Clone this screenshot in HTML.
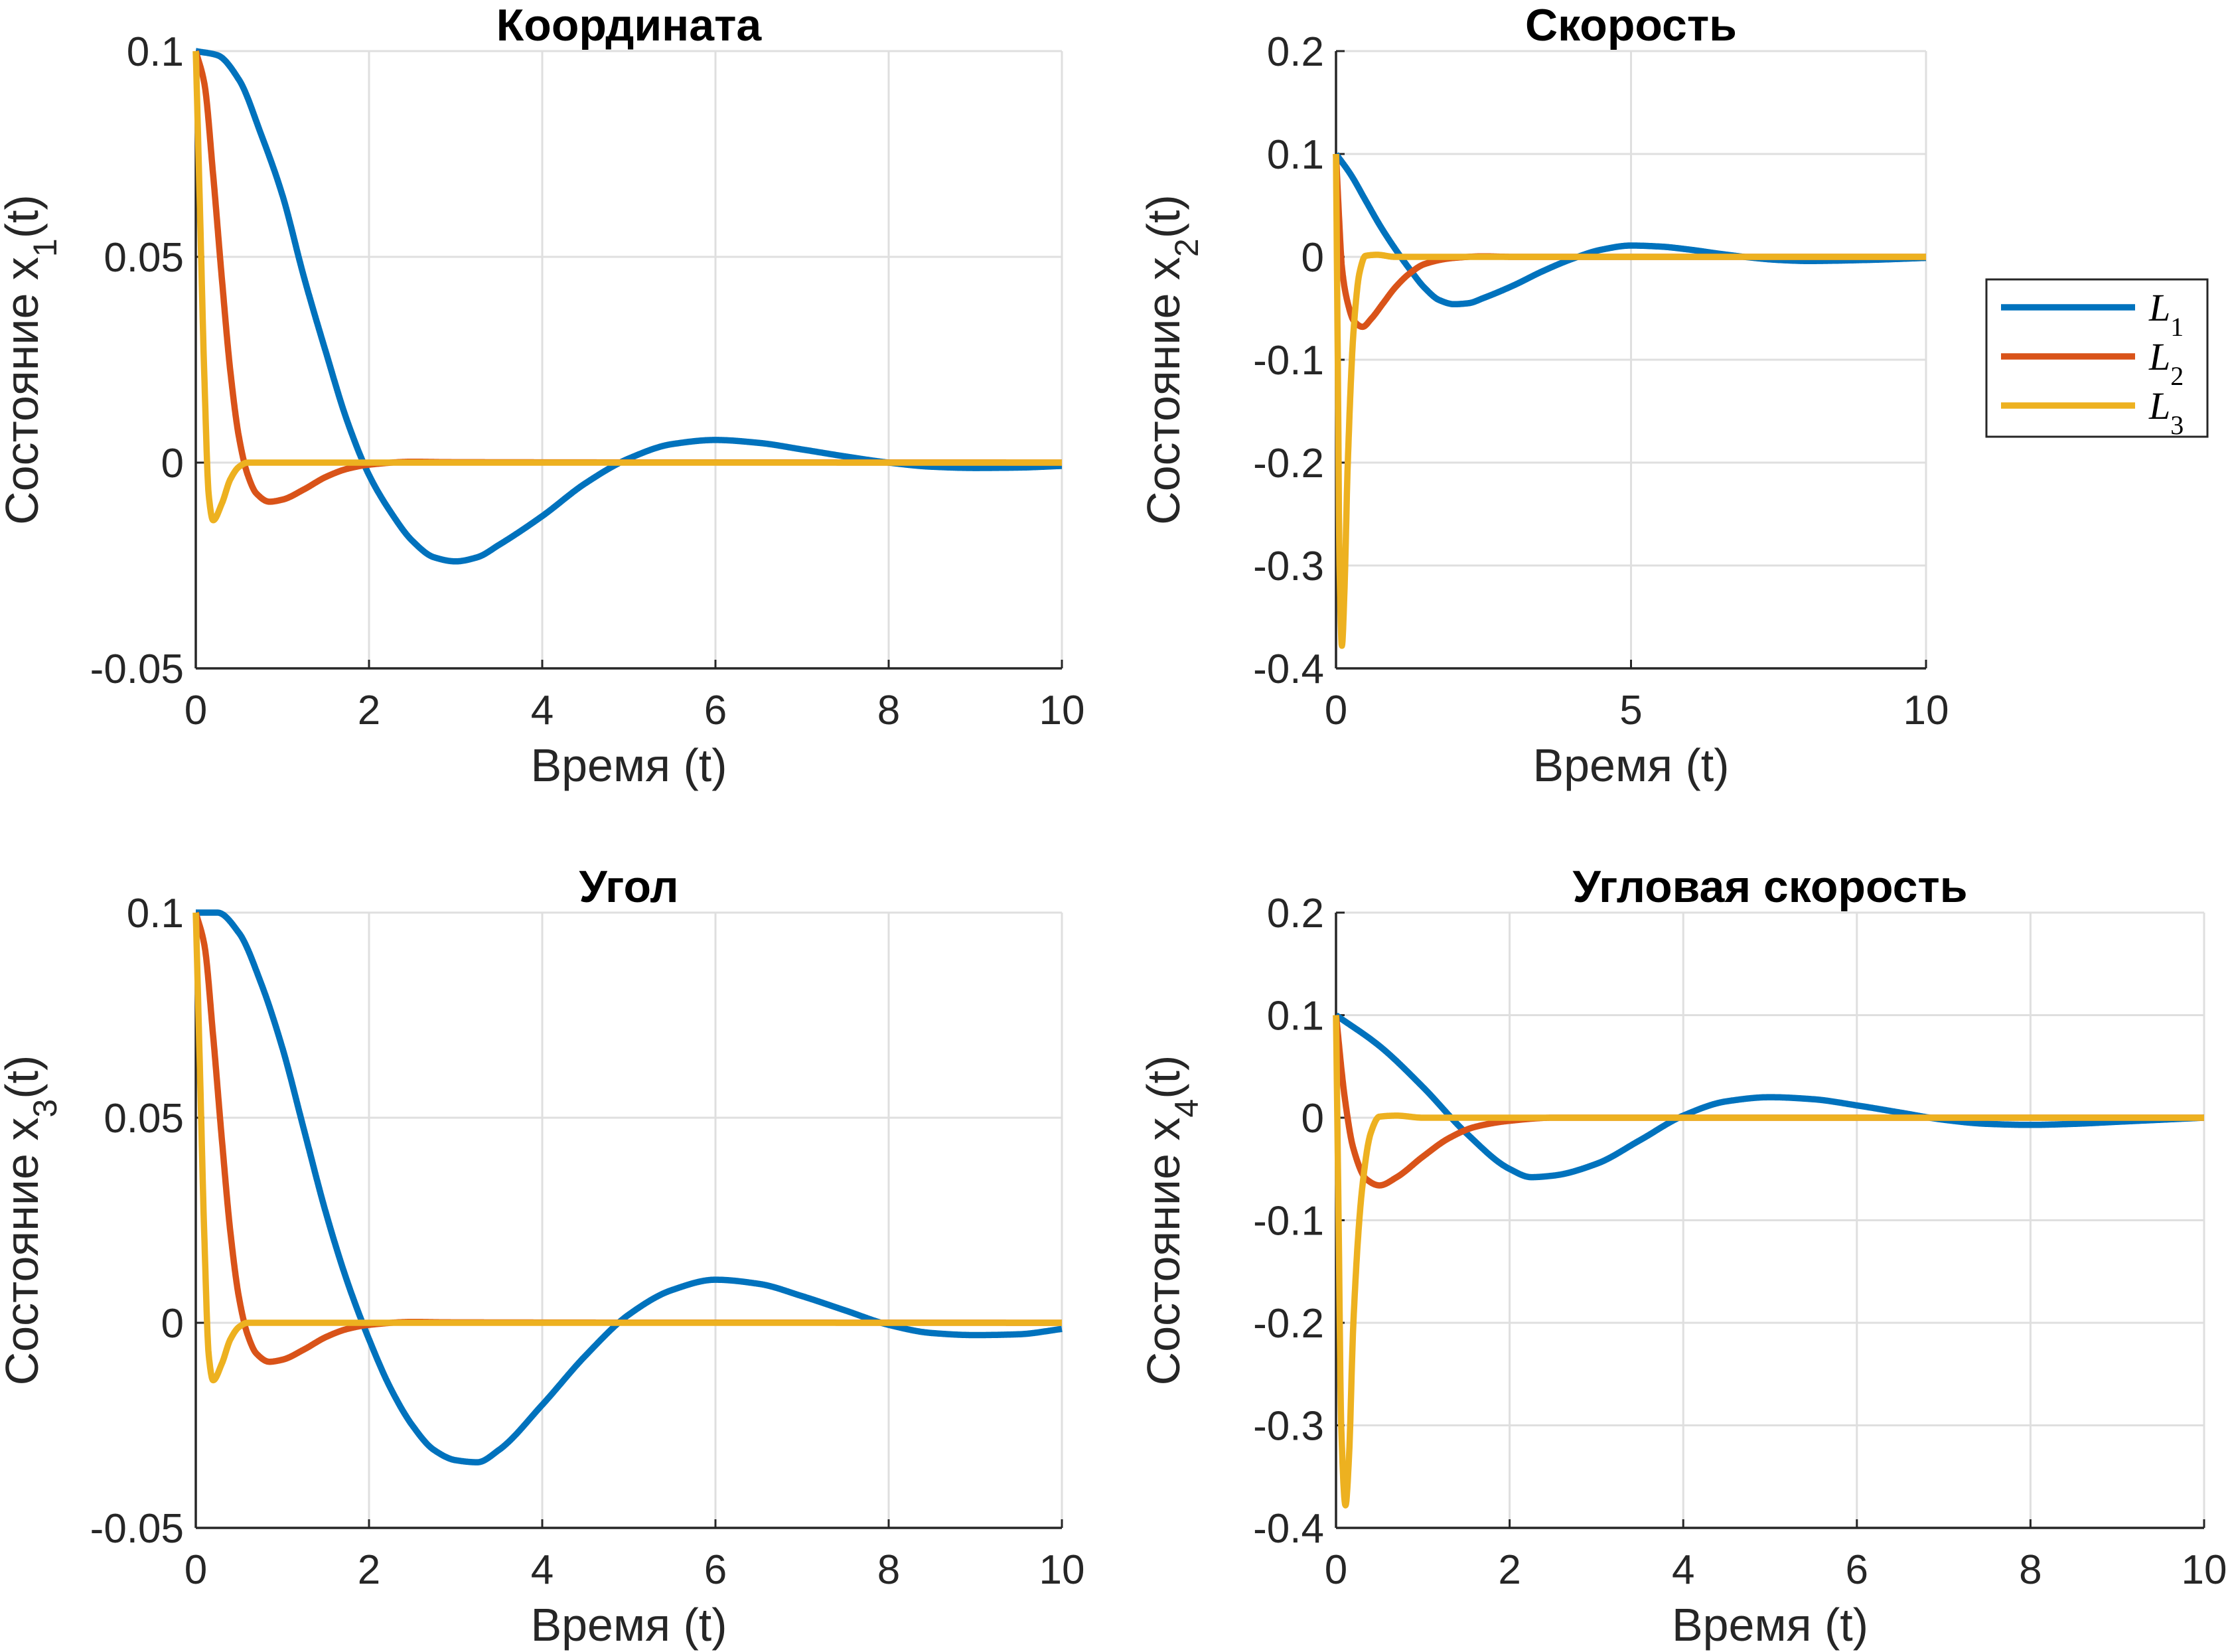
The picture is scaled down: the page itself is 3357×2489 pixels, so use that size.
<!DOCTYPE html>
<html><head><meta charset="utf-8"><style>
html,body{margin:0;padding:0;background:#fff}
svg{display:block}
text{font-family:"Liberation Sans",sans-serif;fill:#262626}
</style></head><body>
<svg id="fig" width="3357" height="2489" viewBox="0 0 3357 2489" xmlns="http://www.w3.org/2000/svg"></svg>
<script>
// ---- data: Координата x1 ----
const p1_t_L1=[0,0.25,0.5,0.75,1,1.25,1.5,1.75,2,2.25,2.5,2.75,3,3.25,3.5,4,4.5,5,5.5,6,6.5,7,7.5,8,8.5,9,9.5,10];
const p1_L1=[0.1,0.099,0.093,0.08,0.065,0.045,0.027,0.01,-0.003,-0.012,-0.019,-0.023,-0.024,-0.023,-0.02,-0.013,-0.005,0.001,0.0045,0.0055,0.0048,0.0032,0.0015,0,-0.001,-0.0013,-0.0012,-0.0008];
const p1_t_L2=[0,0.1,0.2,0.3,0.4,0.5,0.6,0.7,0.85,1,1.25,1.5,1.75,2,2.5,3,10];
const p1_L2=[0.1,0.092,0.07,0.045,0.022,0.006,-0.003,-0.0075,-0.0095,-0.009,-0.0065,-0.0035,-0.0015,-0.0005,0.0002,0.0001,0];
const p1_t_L3=[0,0.05,0.1,0.15,0.2,0.3,0.4,0.5,0.6,10];
const p1_L3=[0.1,0.06,0.02,-0.008,-0.014,-0.01,-0.004,-0.001,0,0];
// ---- data: Скорость x2 ----
const p2_t_L1=[0,0.25,0.5,0.75,1,1.25,1.5,1.75,2,2.25,2.5,3,3.5,4,4.5,5,5.5,6,6.5,7,7.5,8,9,10];
const p2_L1=[0.1,0.08,0.055,0.03,0.008,-0.012,-0.03,-0.042,-0.046,-0.045,-0.04,-0.028,-0.014,-0.002,0.007,0.011,0.01,0.007,0.003,-0.0005,-0.003,-0.004,-0.003,-0.001];
const p2_t_L2=[0,0.05,0.1,0.2,0.3,0.45,0.6,0.8,1,1.25,1.5,2,2.5,3,10];
const p2_L2=[0.1,0.04,-0.01,-0.045,-0.062,-0.068,-0.06,-0.045,-0.03,-0.016,-0.007,-0.001,0.0005,0,0];
const p2_t_L3=[0,0.03,0.06,0.1,0.14,0.2,0.3,0.4,0.5,0.7,1,10];
const p2_L3=[0.1,-0.1,-0.3,-0.378,-0.33,-0.2,-0.07,-0.015,0.001,0.002,0,0];
// ---- data: Угол x3 ----
const p3_t_L1=[0,0.25,0.5,0.75,1,1.25,1.5,1.75,2,2.25,2.5,2.75,3,3.25,3.5,4,4.5,5,5.5,6,6.5,7,7.5,8,8.5,9,9.5,10];
const p3_L1=[0.1,0.1,0.095,0.083,0.067,0.047,0.027,0.01,-0.004,-0.016,-0.025,-0.031,-0.0335,-0.034,-0.031,-0.02,-0.008,0.002,0.008,0.0105,0.0095,0.0065,0.003,-0.0005,-0.0025,-0.003,-0.0028,-0.0015];
const p3_t_L2=[0,0.1,0.2,0.3,0.4,0.5,0.6,0.7,0.85,1,1.25,1.5,1.75,2,2.5,3,10];
const p3_L2=[0.1,0.092,0.07,0.045,0.022,0.006,-0.003,-0.0075,-0.0095,-0.009,-0.0065,-0.0035,-0.0015,-0.0005,0.0002,0.0001,0];
const p3_t_L3=[0,0.05,0.1,0.15,0.2,0.3,0.4,0.5,0.6,10];
const p3_L3=[0.1,0.06,0.02,-0.008,-0.014,-0.01,-0.004,-0.001,0,0];
// ---- data: Угловая скорость x4 ----
const p4_t_L1=[0,0.5,1,1.5,2,2.25,2.5,3,3.5,4,4.5,5,5.5,6,6.5,7,7.5,8,8.5,9,10];
const p4_L1=[0.1,0.07,0.03,-0.015,-0.05,-0.058,-0.0565,-0.045,-0.022,0.002,0.016,0.02,0.018,0.012,0.005,-0.002,-0.006,-0.007,-0.006,-0.004,0];
const p4_t_L2=[0,0.1,0.2,0.35,0.5,0.7,1,1.3,1.6,2,2.5,10];
const p4_L2=[0.1,0.02,-0.03,-0.06,-0.066,-0.058,-0.038,-0.02,-0.009,-0.003,0,0];
const p4_t_L3=[0,0.03,0.06,0.11,0.15,0.2,0.3,0.4,0.5,0.7,1,10];
const p4_L3=[0.1,-0.1,-0.3,-0.378,-0.33,-0.2,-0.07,-0.015,0.001,0.002,0,0];
// ---- ticks ----
const ticksX10=[0,2,4,6,8,10];
const ticksX5=[0,5,10];
const ticksY1=[-0.05,0,0.05,0.1];
const ticksY1Labels=["-0.05","0","0.05","0.1"];
const ticksY2=[-0.4,-0.3,-0.2,-0.1,0,0.1,0.2];
const ticksY2Labels=["-0.4","-0.3","-0.2","-0.1","0","0.1","0.2"];
const seriesNames=["L1","L2","L3"];
const colors=["#0072BD","#D95319","#EDB120"];

const NS="http://www.w3.org/2000/svg";
const svg=document.getElementById('fig');
function mk(tag,attrs,parent){const e=document.createElementNS(NS,tag);for(const k in attrs)e.setAttribute(k,attrs[k]);(parent||svg).appendChild(e);return e;}

function monotone(xs,ys){
  const n=xs.length,d=[],m=new Array(n);
  for(let i=0;i<n-1;i++)d.push((ys[i+1]-ys[i])/(xs[i+1]-xs[i]));
  m[0]=d[0];m[n-1]=d[n-2];
  for(let i=1;i<n-1;i++){
    if(d[i-1]*d[i]<=0)m[i]=0;
    else{const h0=xs[i]-xs[i-1],h1=xs[i+1]-xs[i];const w1=2*h1+h0,w2=h1+2*h0;m[i]=(w1+w2)/(w1/d[i-1]+w2/d[i]);}
  }
  return t=>{
    let i=0;while(i<n-2&&t>xs[i+1])i++;
    const h=xs[i+1]-xs[i],s=(t-xs[i])/h,s2=s*s,s3=s2*s;
    return (2*s3-3*s2+1)*ys[i]+(s3-2*s2+s)*h*m[i]+(-2*s3+3*s2)*ys[i+1]+(s3-s2)*h*m[i+1];
  };
}

function panel(cfg){
  const g=mk('g',{});
  
  
  const {L,R,T,B,ymin,ymax,xt,yt,ytl}=cfg;
  const sx=v=>L+(v/10)*(R-L);
  const sy=v=>B-(v-ymin)/(ymax-ymin)*(B-T);
  mk('rect',{x:L,y:T,width:R-L,height:B-T,fill:'#fff'},g);
  xt.forEach(v=>{const l=mk('line',{x1:sx(v),x2:sx(v),y1:T,y2:B,stroke:'#dfdfdf','stroke-width':3},g);
    });
  yt.forEach(v=>{const l=mk('line',{x1:L,x2:R,y1:sy(v),y2:sy(v),stroke:'#dfdfdf','stroke-width':3},g);
    });
  const ax=mk('line',{x1:L,x2:R,y1:B,y2:B,stroke:'#262626','stroke-width':3.5},g);
  
  const ay=mk('line',{x1:L,x2:L,y1:T,y2:B,stroke:'#262626','stroke-width':3.5},g);
  
  xt.forEach(v=>{mk('line',{x1:sx(v),x2:sx(v),y1:B,y2:B-13,stroke:'#262626','stroke-width':3},g);
    const t=mk('text',{x:sx(v),y:B+84,'font-size':62,'text-anchor':'middle'},g);t.textContent=String(v);
    });
  yt.forEach((v,i)=>{mk('line',{x1:L,x2:L+13,y1:sy(v),y2:sy(v),stroke:'#262626','stroke-width':3},g);
    const t=mk('text',{x:L-18,y:sy(v)+22,'font-size':62,'text-anchor':'end'},g);t.textContent=ytl[i];
    });
  cfg.series.forEach((s,i)=>{
    const f=monotone(s.t,s.v);
    let d="";
    for(let k=0;k<=2000;k++){const t=10*k/2000;d+=(k?"L":"M")+sx(t).toFixed(1)+","+sy(f(t)).toFixed(1);}
    const p=mk('path',{d:d,fill:'none',stroke:colors[i],'stroke-width':9.5,'stroke-linejoin':'round'},g);
    
    
  });
  const tt=mk('text',{x:(L+R)/2,y:T-16,'font-size':68,'font-weight':'bold','text-anchor':'middle',style:'fill:#000'},g);
  tt.textContent=cfg.title;
  const xl=mk('text',{x:(L+R)/2,y:B+170,'font-size':70,'text-anchor':'middle'},g);
  xl.textContent='Время (t)';
  const yl=mk('text',{x:0,y:0,'font-size':70,'text-anchor':'middle',transform:`translate(${cfg.ylx},${(T+B)/2}) rotate(-90)`},g);
  yl.innerHTML='Состояние x<tspan baseline-shift="sub" font-size="50">'+cfg.sub+'</tspan>(t)';
  
}

panel({name:'coordinate-panel',title:'Координата',L:295,R:1600,T:77,B:1007,ymin:-0.05,ymax:0.1,xt:ticksX10,yt:ticksY1,ytl:ticksY1Labels,sub:'1',ylx:57,
  series:[{t:p1_t_L1,v:p1_L1},{t:p1_t_L2,v:p1_L2},{t:p1_t_L3,v:p1_L3}]});
panel({name:'velocity-panel',title:'Скорость',L:2013,R:2902,T:77,B:1007,ymin:-0.4,ymax:0.2,xt:ticksX5,yt:ticksY2,ytl:ticksY2Labels,sub:'2',ylx:1777,
  series:[{t:p2_t_L1,v:p2_L1},{t:p2_t_L2,v:p2_L2},{t:p2_t_L3,v:p2_L3}]});
panel({name:'angle-panel',title:'Угол',L:295,R:1600,T:1375,B:2302,ymin:-0.05,ymax:0.1,xt:ticksX10,yt:ticksY1,ytl:ticksY1Labels,sub:'3',ylx:57,
  series:[{t:p3_t_L1,v:p3_L1},{t:p3_t_L2,v:p3_L2},{t:p3_t_L3,v:p3_L3}]});
panel({name:'angular-velocity-panel',title:'Угловая скорость',L:2013,R:3321,T:1375,B:2302,ymin:-0.4,ymax:0.2,xt:ticksX10,yt:ticksY2,ytl:ticksY2Labels,sub:'4',ylx:1777,
  series:[{t:p4_t_L1,v:p4_L1},{t:p4_t_L2,v:p4_L2},{t:p4_t_L3,v:p4_L3}]});

const lg=mk('g',{});


mk('rect',{x:2993,y:421,width:333,height:237,fill:'#fff',stroke:'#262626','stroke-width':3},lg);
seriesNames.forEach((n,i)=>{
  const y=463+i*74;
  const e=mk('g',{},lg);
  
  
  mk('line',{x1:3015,x2:3217,y1:y,y2:y,stroke:colors[i],'stroke-width':9.5},e);
  const t=mk('text',{x:3238,y:y+20,'font-size':58,'font-style':'italic',style:'font-family:"Liberation Serif",serif;fill:#000'},e);
  t.innerHTML='L<tspan baseline-shift="sub" font-size="40" font-style="normal">'+(i+1)+'</tspan>';
});
</script>
</body></html>
